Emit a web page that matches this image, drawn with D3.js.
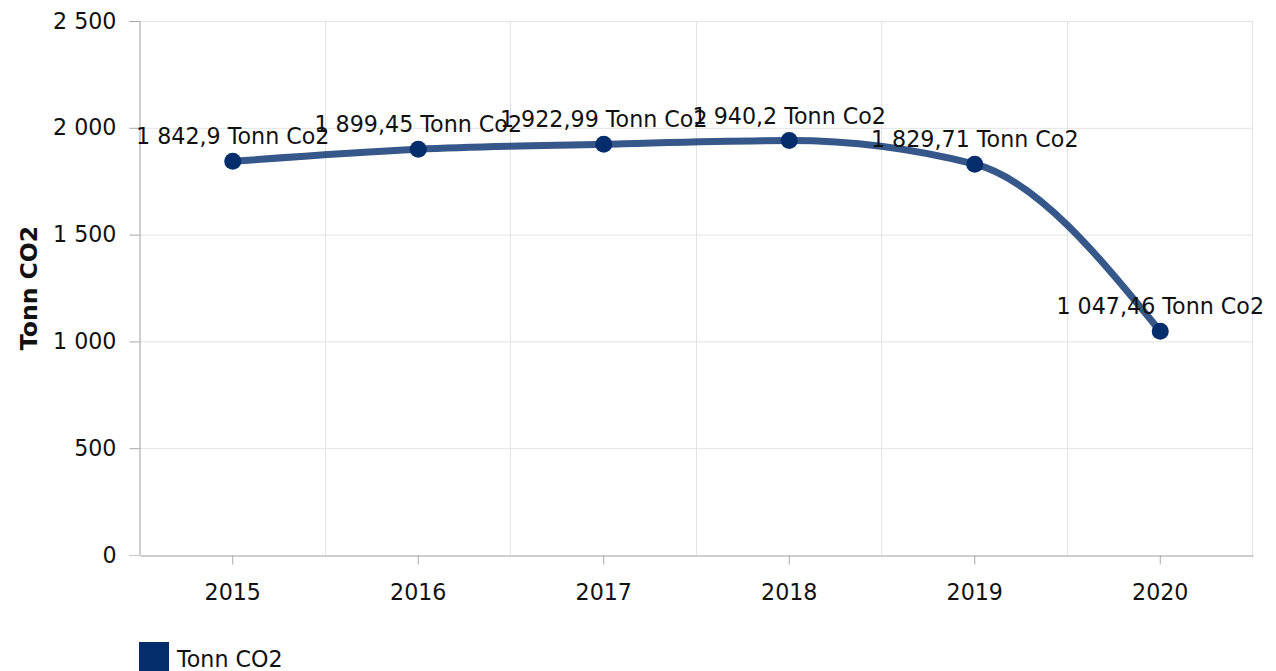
<!DOCTYPE html>
<html>
<head>
<meta charset="utf-8">
<script src="https://cdn.jsdelivr.net/npm/d3@7"></script>
<style>
  body { margin: 0; background: #fff; }
  svg { display: block; font-family: "DejaVu Sans", Verdana, sans-serif; }
</style>
</head>
<body>
<div id="chart"></div>
<script>
const years = ['2015', '2016', '2017', '2018', '2019', '2020'];
const values = [1842.9, 1899.45, 1922.99, 1940.2, 1829.71, 1047.46];
const yTicks = [0, 500, 1000, 1500, 2000, 2500];
const seriesName = 'Tonn CO2';
const labelUnit = 'Tonn Co2';
const axisTitle = 'Tonn CO2';

const width = 1276;
const height = 671;
const margin = { top: 21, right: 23, bottom: 116, left: 140 };
const innerW = width - margin.left - margin.right;
const innerH = height - margin.top - margin.bottom;
const fontSize = 22.2;
const color = '#042d6c';

const locale = d3.formatLocale({ decimal: ',', thousands: '\u00a0', grouping: [3], currency: ['', ''] });
const fmtTick = locale.format(',d');
const fmtLabel = locale.format(',.2~f');

const svg = d3.select('#chart').append('svg')
  .attr('width', width)
  .attr('height', height);

const g = svg.append('g')
  .attr('transform', `translate(${margin.left},${margin.top})`);

const x = d3.scaleBand().domain(years).range([0, innerW]);
const y = d3.scaleLinear().domain([0, 2500]).range([innerH, 0]);
const cx = (d) => x(d) + x.bandwidth() / 2;

// grid
g.append('g')
  .selectAll('line')
  .data(yTicks.filter((t) => t > 0))
  .enter().append('line')
  .attr('x1', 0)
  .attr('x2', innerW)
  .attr('y1', (d) => y(d) + 0.5)
  .attr('y2', (d) => y(d) + 0.5)
  .style('stroke', '#e3e3e3');

g.append('g')
  .selectAll('line')
  .data(years.slice(1).map((d) => x(d)).concat([innerW]))
  .enter().append('line')
  .attr('x1', (d) => Math.round(d) - 0.5)
  .attr('x2', (d) => Math.round(d) - 0.5)
  .attr('y1', 0)
  .attr('y2', innerH)
  .style('stroke', '#e3e3e3');

// axes
const yAxis = d3.axisLeft(y).tickValues(yTicks).tickFormat(fmtTick).tickSize(10).tickPadding(13);
const yg = g.append('g').attr('transform', 'translate(-0.5,0)').call(yAxis);

const xAxis = d3.axisBottom(x).tickSize(9).tickPadding(20).tickSizeOuter(0);
const xg = g.append('g').attr('transform', `translate(0,${innerH + 0.5})`).call(xAxis);

[yg, xg].forEach((a) => {
  a.selectAll('.domain').style('stroke', '#9e9e9e');
  a.selectAll('.tick line').style('stroke', '#a8a8a8');
  a.selectAll('text')
    .style('font-size', `${fontSize}px`)
    .style('fill', '#111')
    .style('font-family', '"DejaVu Sans", Verdana, sans-serif');
});
// extend x axis line to the left like the y ticks
xg.append('line')
  .attr('x1', -10)
  .attr('x2', 0)
  .style('stroke', '#c8c8c8');

// axis title
svg.append('text')
  .attr('transform', `translate(37,${margin.top + innerH / 2}) rotate(-90)`)
  .attr('text-anchor', 'middle')
  .style('font-size', '23.5px')
  .style('font-weight', 'bold')
  .style('fill', '#111')
  .text(axisTitle);

// line
const data = years.map((d, i) => ({ year: d, value: values[i] }));

const line = d3.line()
  .x((d) => cx(d.year))
  .y((d) => y(d.value))
  .curve(d3.curveMonotoneX);

g.append('path')
  .datum(data)
  .attr('d', line)
  .style('fill', 'none')
  .style('stroke', color)
  .style('stroke-opacity', 0.8)
  .style('stroke-width', 7)
  .style('stroke-linejoin', 'round');

g.selectAll('.dot')
  .data(data)
  .enter().append('circle')
  .attr('class', 'dot')
  .attr('cx', (d) => cx(d.year))
  .attr('cy', (d) => y(d.value))
  .attr('r', 8.5)
  .style('fill', color);

g.selectAll('.label')
  .data(data)
  .enter().append('text')
  .attr('class', 'label')
  .attr('x', (d) => cx(d.year))
  .attr('y', (d) => y(d.value) - 17)
  .attr('text-anchor', 'middle')
  .style('font-size', `${fontSize}px`)
  .style('fill', '#111')
  .text((d) => `${fmtLabel(d.value)} ${labelUnit}`);

// legend
const legend = svg.append('g').attr('transform', 'translate(139,642)');
legend.append('rect')
  .attr('width', 30)
  .attr('height', 30)
  .style('fill', color);
legend.append('text')
  .attr('x', 38)
  .attr('y', 25)
  .style('font-size', `${fontSize}px`)
  .style('fill', '#111')
  .text(seriesName);
</script>
</body>
</html>
